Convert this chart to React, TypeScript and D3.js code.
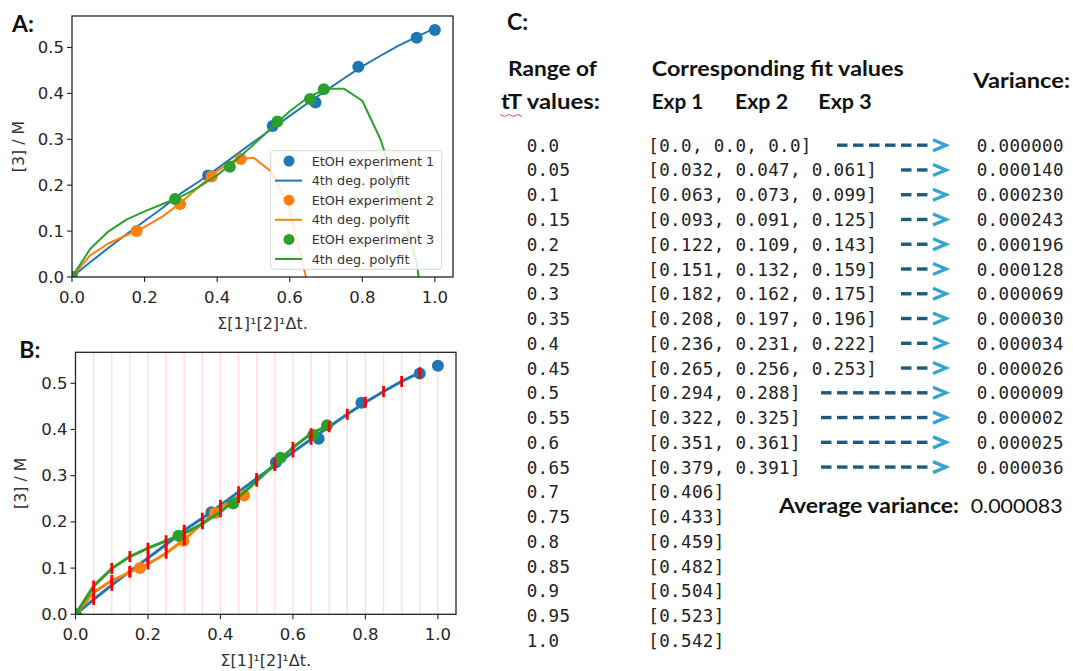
import React from 'react';
import * as d3 from 'd3';

// ---------- data ----------
const tTValues = [0.0, 0.05, 0.1, 0.15, 0.2, 0.25, 0.3, 0.35, 0.4, 0.45, 0.5, 0.55, 0.6, 0.65, 0.7, 0.75, 0.8, 0.85, 0.9, 0.95, 1.0];
const tTLabels = ['0.0', '0.05', '0.1', '0.15', '0.2', '0.25', '0.3', '0.35', '0.4', '0.45', '0.5', '0.55', '0.6', '0.65', '0.7', '0.75', '0.8', '0.85', '0.9', '0.95', '1.0'];

// fit values from the table (experiment order as displayed)
const fitExp1 = [0.0, 0.032, 0.063, 0.093, 0.122, 0.151, 0.182, 0.208, 0.236, 0.265, 0.294, 0.322, 0.351, 0.379, 0.406, 0.433, 0.459, 0.482, 0.504, 0.523, 0.542];
const fitExp2 = [0.0, 0.047, 0.073, 0.091, 0.109, 0.132, 0.162, 0.197, 0.231, 0.256];
const fitExp3 = [0.0, 0.061, 0.099, 0.125, 0.143, 0.159, 0.175, 0.196, 0.222, 0.253, 0.288, 0.325, 0.361, 0.391];
// polyfit continuation visible in panel A
const fitExp2Beyond = [0.26, 0.229, 0.145, -0.017, -0.28];
const fitExp3Beyond = [0.41, 0.41, 0.384, 0.3, 0.18, 0.03, -0.25];

const varianceValues = [0.0, 0.00014, 0.00023, 0.000243, 0.000196, 0.000128, 0.000069, 0.00003, 0.000034, 0.000026, 0.000009, 0.000002, 0.000025, 0.000036];

// measured points
const exp1X = [0, 0.375, 0.553, 0.671, 0.789, 0.95, 1.0];
const exp1Y = [0, 0.221, 0.329, 0.38, 0.458, 0.521, 0.538];
const exp2X = [0, 0.178, 0.298, 0.385, 0.465];
const exp2Y = [0, 0.1, 0.159, 0.219, 0.257];
const exp3X = [0, 0.284, 0.435, 0.566, 0.656, 0.694];
const exp3Y = [0, 0.17, 0.24, 0.339, 0.388, 0.409];

// panel B curve extent (tT upper limit per experiment)
const bCurveLimit = [0.95, 0.45, 0.7];

const xTicks = [0, 0.2, 0.4, 0.6, 0.8, 1.0];
const yTicks = [0, 0.1, 0.2, 0.3, 0.4, 0.5];
const legendLabels = ['EtOH experiment 1', '4th deg. polyfit', 'EtOH experiment 2', '4th deg. polyfit', 'EtOH experiment 3', '4th deg. polyfit'];
const colors = ['#1f77b4', '#ff7f0e', '#2ca02c'];
const xAxisLabel = 'Σ[1]¹[2]¹Δt.';
const yAxisLabel = '[3] / M';

const SANS = 'DejaVu Sans';
const HEAD = 'Lato';
const MONO = 'DejaVu Sans Mono';

type Frame = { left: number; right: number; top: number; bottom: number; yMax: number };

function Panel({ frame, mode, yLabelX }: { frame: Frame; mode: 'A' | 'B'; yLabelX: number }) {
  const x = d3.scaleLinear().domain([0, 1.05]).range([frame.left, frame.right]);
  const y = d3.scaleLinear().domain([0, frame.yMax]).range([frame.bottom, frame.top]);
  const line = d3.line<[number, number]>().x(d => x(d[0])).y(d => y(d[1]));
  const clipId = 'clip' + mode;

  const curves: [number, number][][] = [
    tTValues.map((t, i) => [t, fitExp1[i]] as [number, number]),
    fitExp2.concat(fitExp2Beyond).map((v, i) => [tTValues[i], v] as [number, number]),
    fitExp3.concat(fitExp3Beyond).map((v, i) => [tTValues[i], v] as [number, number]),
  ];
  const drawn = mode === 'A' ? curves : curves.map((c, k) => c.filter(p => p[0] <= bCurveLimit[k] + 1e-9));
  const pts = [
    exp1X.map((v, i) => [v, exp1Y[i]]),
    exp2X.map((v, i) => [v, exp2Y[i]]),
    exp3X.map((v, i) => [v, exp3Y[i]]),
  ];
  const lw = mode === 'A' ? 2 : 3;
  const r = 6;
  const cx = (frame.left + frame.right) / 2;
  const cy = (frame.top + frame.bottom) / 2;

  const markers: { t: number; v: number }[] = [];
  if (mode === 'B') {
    tTValues.forEach((t, i) => {
      if (i === 0 || t > bCurveLimit[0] + 1e-9) return;
      [fitExp1[i], fitExp2[i], fitExp3[i]].forEach(v => {
        if (v !== undefined) markers.push({ t, v });
      });
    });
  }

  const legX = 270.7, legY = 150.7, legW = 171, legH = 118.6;

  return (
    <g>
      <defs>
        <clipPath id={clipId}>
          <rect x={frame.left} y={frame.top} width={frame.right - frame.left} height={frame.bottom - frame.top} />
        </clipPath>
      </defs>
      <g clipPath={`url(#${clipId})`}>
        {mode === 'B' && tTValues.slice(1).map((t, i) => (
          <line key={'v' + i} x1={x(t)} x2={x(t)} y1={frame.top} y2={frame.bottom} stroke="#ff0000" strokeOpacity={0.13} strokeWidth={1.5} />
        ))}
        {[0, 1, 2].map(k => (
          <g key={'s' + k}>
            {pts[k].map((p, i) => (
              <circle key={i} cx={x(p[0])} cy={y(p[1])} r={r} fill={colors[k]} />
            ))}
            <path d={line(drawn[k]) || ''} fill="none" stroke={colors[k]} strokeWidth={lw} strokeLinejoin="round" />
          </g>
        ))}
        {markers.map((m, i) => (
          <line key={'m' + i} x1={x(m.t)} x2={x(m.t)} y1={y(m.v) - 5.5} y2={y(m.v) + 5.5} stroke="#ff0000" strokeWidth={2.8} />
        ))}
      </g>
      {mode === 'A' && (
        <g>
          <rect x={legX} y={legY} width={legW} height={legH} rx={3} fill="#fff" fillOpacity={0.85} stroke="#d6d6d6" strokeWidth={1} />
          {legendLabels.map((lab, i) => {
            const ry = 161 + i * 19.6;
            const k = Math.floor(i / 2);
            return (
              <g key={'l' + i}>
                {i % 2 === 0 ? (
                  <circle cx={289} cy={ry} r={5.5} fill={colors[k]} />
                ) : (
                  <line x1={275} x2={302} y1={ry} y2={ry} stroke={colors[k]} strokeWidth={2} />
                )}
                <text x={311.7} y={ry} dominantBaseline="central" fontFamily={SANS} fontSize={12.8} fill="#333">{lab}</text>
              </g>
            );
          })}
        </g>
      )}
      {xTicks.map(t => (
        <g key={'xt' + t}>
          <line x1={x(t)} x2={x(t)} y1={frame.bottom} y2={frame.bottom + 5} stroke="#222" strokeWidth={1.1} />
          <text x={x(t)} y={frame.bottom + 20} textAnchor="middle" dominantBaseline="central" fontFamily={SANS} fontSize={16.5} fill="#262626">{t.toFixed(1)}</text>
        </g>
      ))}
      {yTicks.map(t => (
        <g key={'yt' + t}>
          <line x1={frame.left - 5} x2={frame.left} y1={y(t)} y2={y(t)} stroke="#222" strokeWidth={1.1} />
          <text x={frame.left - 8} y={y(t)} textAnchor="end" dominantBaseline="central" fontFamily={SANS} fontSize={16.5} fill="#262626">{t.toFixed(1)}</text>
        </g>
      ))}
      <text x={cx} y={frame.bottom + 46} textAnchor="middle" dominantBaseline="central" fontFamily={SANS} fontSize={16} fill="#333">{xAxisLabel}</text>
      <text transform={`translate(${yLabelX},${cy}) rotate(-90)`} textAnchor="middle" dominantBaseline="central" fontFamily={SANS} fontSize={15.8} fill="#333">{yAxisLabel}</text>
      <rect x={frame.left} y={frame.top} width={frame.right - frame.left} height={frame.bottom - frame.top} fill="none" stroke="#222" strokeWidth={1.3} />
    </g>
  );
}

function TableC() {
  const rowY = (i: number) => 145.7 + i * 24.76;
  const charW = 10.9;
  const fitX = 648.3;
  const chevX = 933;
  const fmt = (v: number) => (v === 0 ? '0.0' : v.toFixed(3));
  const rows = tTValues.map((t, i) => {
    const vals = [fitExp1[i], fitExp2[i], fitExp3[i]].filter(v => v !== undefined) as number[];
    return '[' + vals.map(fmt).join(', ') + ']';
  });
  const avgVar = d3.mean(varianceValues) as number;
  const monoProps = { fontFamily: MONO, fontSize: 17.5, letterSpacing: 0.36, fill: '#222' };
  const head = { fontFamily: HEAD, fontWeight: 700, fontSize: 20, fill: '#111', lengthAdjust: 'spacingAndGlyphs' } as any;
  return (
    <g>
      <text x={507} y={30} fontFamily={HEAD} fontWeight={700} fontSize={23} fill="#111">C:</text>
      <text x={508} y={76} {...head} textLength={89}>Range of</text>
      <text x={501} y={109.3} {...head} textLength={99}>tT values:</text>
      <path d={d3.range(0, 6).map(k => `${k === 0 ? 'M' : 'L'}${500 + k * 4.4},${k % 2 === 0 ? 114.5 : 116.5}`).join(' ')} fill="none" stroke="#e23b2e" strokeWidth={0.9} />
      <text x={651.7} y={76} {...head} textLength={252}>Corresponding fit values</text>
      <text x={651.7} y={109.3} {...head} textLength={51.6}>Exp 1</text>
      <text x={735} y={109.3} {...head} textLength={53}>Exp 2</text>
      <text x={818.3} y={109.3} {...head} textLength={53.4}>Exp 3</text>
      <text x={973.3} y={88.3} {...head} textLength={96.7}>Variance:</text>
      {tTLabels.map((lab, i) => (
        <text key={'t' + i} x={526.7} y={rowY(i) + 6} {...monoProps}>{lab}</text>
      ))}
      {rows.map((s, i) => (
        <text key={'f' + i} x={fitX} y={rowY(i) + 6} {...monoProps}>{s}</text>
      ))}
      {varianceValues.map((v, i) => {
        const textEnd = fitX + rows[i].length * charW;
        const n = Math.floor((chevX - textEnd - 20) / 16);
        const cy = rowY(i) - 0.5;
        return (
          <g key={'a' + i}>
            {d3.range(n).map(k => (
              <line key={k} x1={chevX - (n - k) * 16} x2={chevX - (n - k) * 16 + 10.5} y1={cy} y2={cy} stroke="#1f5b79" strokeWidth={3.4} />
            ))}
            <polyline points={`${chevX},${cy - 5.5} ${chevX + 13},${cy} ${chevX},${cy + 5.5}`} fill="none" stroke="#35a4d3" strokeWidth={3.4} />
            <text x={976.7} y={rowY(i) + 6} {...monoProps}>{v.toFixed(6)}</text>
          </g>
        );
      })}
      <text x={779} y={512.7} {...head} textLength={180}>Average variance:</text>
      <text x={970.7} y={512.7} fontFamily={HEAD} fontSize={20} fill="#111" textLength={92} lengthAdjust="spacingAndGlyphs">{avgVar.toFixed(6)}</text>
    </g>
  );
}

export default function App() {
  const frameA: Frame = { left: 72, right: 453, top: 16, bottom: 277, yMax: 0.5686 };
  const frameB: Frame = { left: 75.5, right: 456, top: 352.3, bottom: 614.3, yMax: 0.567 };
  return (
    <svg width={1073} height={671} style={{ position: 'absolute', left: 0, top: 0 }}>
      <rect width={1073} height={671} fill="#fff" />
      <text x={12} y={32} fontFamily={HEAD} fontWeight={700} fontSize={23} fill="#111">A:</text>
      <text x={19.3} y={357.5} fontFamily={HEAD} fontWeight={700} fontSize={23} fill="#111">B:</text>
      <Panel frame={frameA} mode="A" yLabelX={18.3} />
      <Panel frame={frameB} mode="B" yLabelX={20.5} />
      <TableC />
    </svg>
  );
}
